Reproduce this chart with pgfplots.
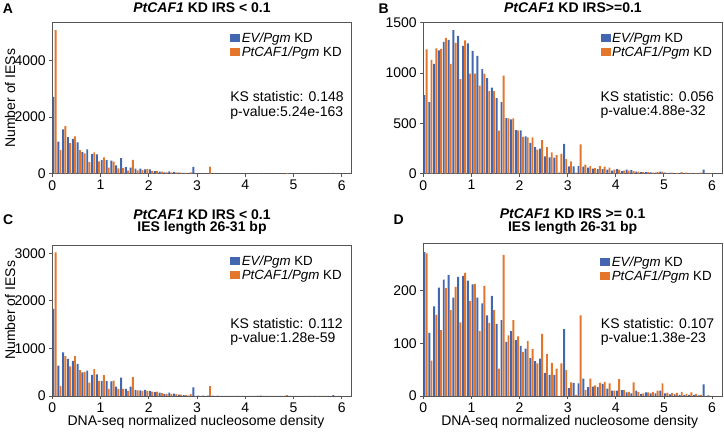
\documentclass[border=0pt]{standalone}
\usepackage{pgfplots}
\pgfplotsset{compat=1.18}
\usepackage{pgfplotstable}
\usepackage{fontspec}
\setmainfont{Liberation Sans}
\definecolor{evblue}{RGB}{66,103,176}
\definecolor{pcorange}{RGB}{227,118,43}
\definecolor{axgray}{RGB}{85,85,85}

\pgfplotstableread{
x ev pc
0.05 2716 5070
0.15 1130 835
0.25 1565 1680
0.35 1295 1080
0.45 1225 1320
0.55 1105 835
0.65 765 720
0.75 860 410
0.85 695 750
0.95 680 435
1.05 480 575
1.15 480 210
1.25 460 425
1.35 295 190
1.45 550 200
1.55 235 110
1.65 210 490
1.75 175 120
1.85 175 130
1.95 155 165
2.05 150 95
2.15 95 95
2.25 70 70
2.35 50 50
2.45 80 50
2.55 60 45
2.65 35 35
2.75 25 25
2.85 12 45
2.95 240 5
3.05 10 5
3.15 10 5
3.25 10 250
3.35 10 5
3.45 8 5
3.55 6 5
3.65 5 5
3.75 5 5
3.85 5 5
3.95 5 5
4.05 5 5
4.15 3 5
4.25 3 15
4.35 10 5
4.45 3 3
4.55 2 3
4.65 2 3
4.75 2 3
4.85 2 20
4.95 2 3
5.05 2 2
5.15 2 2
5.25 2 2
5.35 2 2
5.45 2 2
5.55 2 2
5.65 2 2
5.75 2 2
5.85 25 2
5.95 2 2
}\dataA

\pgfplotstableread{
x ev pc
0.05 780 1235
0.15 710 1130
0.25 1090 1245
0.35 1225 1240
0.45 1310 1350
0.55 1330 1090
0.65 1425 1300
0.75 1370 940
0.85 1270 1325
0.95 1295 995
1.05 1220 995
1.15 1170 875
1.25 1040 995
1.35 950 820
1.45 855 820
1.55 750 427
1.65 710 973
1.75 553 550
1.85 540 550
1.95 432 430
2.05 430 365
2.15 370 362
2.25 305 360
2.35 265 238
2.45 248 334
2.55 172 265
2.65 162 212
2.75 159 185
2.85 10 197
2.95 295 145
3.05 73 123
3.15 73 10
3.25 75 292
3.35 70 90
3.45 60 75
3.55 50 55
3.65 45 75
3.75 45 70
3.85 40 60
3.95 30 40
4.05 45 40
4.15 25 30
4.25 40 30
4.35 35 25
4.45 20 20
4.55 15 15
4.65 15 15
4.75 12 10
4.85 10 15
4.95 20 20
5.05 10 8
5.15 8 10
5.25 5 5
5.35 5 15
5.45 5 10
5.55 5 8
5.65 3 5
5.75 3 10
5.85 40 3
5.95 2 2
}\dataB

\pgfplotstableread{
x ev pc
0.05 1830 3020
0.15 640 215
0.25 915 840
0.35 780 625
0.45 740 840
0.55 675 545
0.65 495 505
0.75 535 280
0.85 445 565
0.95 455 320
1.05 315 440
1.15 315 150
1.25 310 325
1.35 195 150
1.45 385 150
1.55 150 110
1.65 195 395
1.75 130 120
1.85 120 100
1.95 130 110
2.05 110 90
2.15 80 90
2.25 70 60
2.35 45 45
2.45 70 45
2.55 50 40
2.65 30 30
2.75 20 20
2.85 10 40
2.95 180 3
3.05 10 3
3.15 8 3
3.25 8 210
3.35 10 3
3.45 6 3
3.55 5 3
3.65 5 3
3.75 4 3
3.85 4 3
3.95 4 3
4.05 4 3
4.15 3 3
4.25 3 10
4.35 8 3
4.45 2 2
4.55 2 2
4.65 2 2
4.75 2 2
4.85 2 20
4.95 2 2
5.05 2 2
5.15 2 2
5.25 2 2
5.35 2 2
5.45 2 2
5.55 2 2
5.65 2 2
5.75 2 2
5.85 20 2
5.95 2 2
}\dataC

\pgfplotstableread{
x ev pc
0.05 273 271
0.15 120 67
0.25 170 154
0.35 206 125
0.45 221 205
0.55 230 163
0.65 187 207
0.75 226 140
0.85 228 234
0.95 219 180
1.05 212 213
1.15 187 123
1.25 176 209
1.35 153 139
1.45 190 163
1.55 137 52
1.65 144 268
1.75 103 115
1.85 123 144
1.95 106 113
2.05 95 84
2.15 90 104
2.25 72 89
2.35 66 62
2.45 71 118
2.55 44 80
2.65 40 63
2.75 40 52
2.85 0 62
2.95 127 49
3.05 15 26
3.15 25 2
3.25 24 153
3.35 33 11
3.45 17 33
3.55 18 20
3.65 17 25
3.75 23 27
3.85 14 24
3.95 10 10
4.05 10 32
4.15 11 11
4.25 7 8
4.35 5 26
4.45 10 8
4.55 4 5
4.65 7 7
4.75 5 8
4.85 5 10
4.95 10 24
5.05 5 6
5.15 3 6
5.25 3 6
5.35 2 8
5.45 2 4
5.55 2 7
5.65 2 4
5.75 1 2
5.85 22 0
5.95 1 0
}\dataD

\tikzset{
  ks/.style={anchor=west, align=left, font=\fontsize{14}{14.5}\selectfont, inner sep=0pt},
}
\pgfplotsset{
  panel/.style={
    scale only axis,
    xmin=0, ymin=0,
    axis line style={axgray, line width=0.8pt},
    xtick={0,1,2,3,4,5,6},
    tick style={axgray, line width=0.8pt},
    tick align=outside, major tick length=3pt,
    xtick pos=bottom, ytick pos=left,
    ticklabel style={font=\fontsize{14}{14}\selectfont, text=black},
    /pgf/number format/assume math mode=true,
    scaled y ticks=false,
    /pgf/number format/1000 sep={},
    legend style={draw=none, fill=none, font=\fontsize{13.3}{15}\selectfont,
      anchor=north west, legend cell align=left, inner sep=0pt,
      nodes={inner sep=1.5pt}},
    legend image code/.code={\fill (0pt,-4pt) rectangle (10pt,4pt);},
    title style={font=\bfseries\fontsize{14}{14}\selectfont, align=center, anchor=center},
    label style={font=\fontsize{14}{14}\selectfont},
  },
  evbar/.style={ybar, bar width=0.04, bar shift=-0.025, fill=evblue, draw=none},
  pcbar/.style={ybar, bar width=0.04, bar shift=0.02, fill=pcorange, draw=none},
}

\begin{document}
\begin{tikzpicture}[x=1pt,y=1pt]
\useasboundingbox (0,0) rectangle (724,433);

% Panel A
\begin{axis}[panel, at={(52.3pt,259.3pt)}, anchor=south west,
  width=299.4pt, height=151pt, xmax=6.207, ymax=5330,
  ytick={0,2000,4000},
  title={\textit{PtCAF1} KD IRS < 0.1},
  title style={at={(axis description cs:0.5,1)}, yshift=8.7pt},
  ylabel={Number of IESs},
  ylabel style={at={(axis description cs:-0.141,0.5)}, anchor=center},
  legend style={at={(axis description cs:0.594,0.947)}}]
\addplot[evbar] table[x=x,y=ev] {\dataA};
\addlegendentry{\textit{EV/Pgm} KD}
\addplot[pcbar] table[x=x,y=pc] {\dataA};
\addlegendentry{\textit{PtCAF1/Pgm} KD}
\node[ks] at (axis description cs:0.594,0.453) {KS statistic: 0.148\\p-value:5.24e-163};
\end{axis}

% Panel B
\begin{axis}[panel, at={(423.3pt,259.3pt)}, anchor=south west,
  width=299.2pt, height=151pt, xmax=6.218, ymax=1500,
  ytick={0,500,1000,1500},
  title={\textit{PtCAF1} KD IRS>=0.1},
  title style={at={(axis description cs:0.5,1)}, yshift=8.7pt},
  legend style={at={(axis description cs:0.592,0.947)}}]
\addplot[evbar] table[x=x,y=ev] {\dataB};
\addlegendentry{\textit{EV/Pgm} KD}
\addplot[pcbar] table[x=x,y=pc] {\dataB};
\addlegendentry{\textit{PtCAF1/Pgm} KD}
\node[ks] at (axis description cs:0.592,0.455) {KS statistic: 0.056\\p-value:4.88e-32};
\end{axis}

% Panel C
\begin{axis}[panel, at={(52.3pt,37pt)}, anchor=south west,
  width=299.4pt, height=150.3pt, xmax=6.207, ymax=3160,
  ytick={0,1000,2000,3000},
  title={\textit{PtCAF1} KD IRS < 0.1\\IES length 26-31 bp},
  title style={at={(axis description cs:0.5,1)}, yshift=17.7pt, font=\bfseries\fontsize{14}{12.5}\selectfont},
  ylabel={Number of IESs},
  ylabel style={at={(axis description cs:-0.141,0.57)}, anchor=center},
  xlabel={DNA-seq normalized nucleosome density},
  xlabel style={at={(axis description cs:0.48,0)}, anchor=center, yshift=-25.7pt},
  legend style={at={(axis description cs:0.594,0.946)}}]
\addplot[evbar] table[x=x,y=ev] {\dataC};
\addlegendentry{\textit{EV/Pgm} KD}
\addplot[pcbar] table[x=x,y=pc] {\dataC};
\addlegendentry{\textit{PtCAF1/Pgm} KD}
\node[ks] at (axis description cs:0.594,0.426) {KS statistic: 0.112\\p-value:1.28e-59};
\end{axis}

% Panel D
\begin{axis}[panel, at={(423.3pt,37pt)}, anchor=south west,
  width=298.7pt, height=152.7pt, xmax=6.207, ymax=290,
  ytick={0,100,200},
  title={\textit{PtCAF1} KD IRS >= 0.1\\IES length 26-31 bp},
  title style={at={(axis description cs:0.5,1)}, yshift=15.8pt, font=\bfseries\fontsize{14}{12.5}\selectfont},
  xlabel={DNA-seq normalized nucleosome density},
  xlabel style={at={(axis description cs:0.49,0)}, anchor=center, yshift=-25.7pt},
  legend style={at={(axis description cs:0.592,0.925)}}]
\addplot[evbar] table[x=x,y=ev] {\dataD};
\addlegendentry{\textit{EV/Pgm} KD}
\addplot[pcbar] table[x=x,y=pc] {\dataD};
\addlegendentry{\textit{PtCAF1/Pgm} KD}
\node[ks] at (axis description cs:0.594,0.419) {KS statistic: 0.107\\p-value:1.38e-23};
\end{axis}

\node[font=\bfseries\fontsize{14}{14}\selectfont] at (8,424.7) {A};
\node[font=\bfseries\fontsize{14}{14}\selectfont] at (383.7,424) {B};
\node[font=\bfseries\fontsize{14}{14}\selectfont] at (8.3,213) {C};
\node[font=\bfseries\fontsize{14}{14}\selectfont] at (398.7,213.5) {D};
\end{tikzpicture}
\end{document}
